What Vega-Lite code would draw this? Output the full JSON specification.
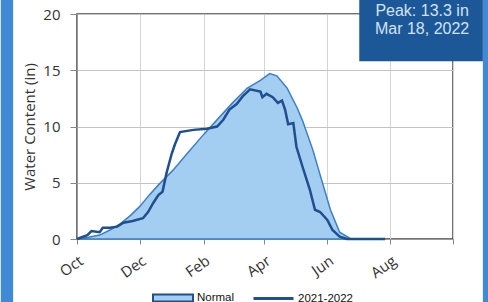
{
  "$schema": "https://vega.github.io/schema/vega-lite/v6.json",
  "autosize": {"type": "none"},
  "width": 376,
  "height": 225,
  "padding": {"left": 77, "top": 14, "right": 35, "bottom": 63},
  "background": "#ffffff",
  "config": {
    "view": {"stroke": "#444444", "strokeWidth": 1.5},
    "font": "Open Sans"
  },
  "datasets": {
    "frame": [
      {"x": "2021/07/19", "x2": "2021/07/31", "y": -6, "y2": 22},
      {"x": "2022/10/30", "x2": "2022/11/08", "y": -6, "y2": 22}
    ],
    "swe": [
      {"date": "2021/10/01", "value": 0, "series": "Normal"},
      {"date": "2021/10/12", "value": 0.15, "series": "Normal"},
      {"date": "2021/10/23", "value": 0.35, "series": "Normal"},
      {"date": "2021/11/02", "value": 0.8, "series": "Normal"},
      {"date": "2021/11/12", "value": 1.35, "series": "Normal"},
      {"date": "2021/11/22", "value": 2.1, "series": "Normal"},
      {"date": "2021/12/01", "value": 2.9, "series": "Normal"},
      {"date": "2021/12/10", "value": 3.9, "series": "Normal"},
      {"date": "2021/12/20", "value": 4.9, "series": "Normal"},
      {"date": "2022/01/02", "value": 6.1, "series": "Normal"},
      {"date": "2022/01/16", "value": 7.6, "series": "Normal"},
      {"date": "2022/02/01", "value": 9.3, "series": "Normal"},
      {"date": "2022/02/17", "value": 10.9, "series": "Normal"},
      {"date": "2022/03/01", "value": 12.1, "series": "Normal"},
      {"date": "2022/03/15", "value": 13.4, "series": "Normal"},
      {"date": "2022/03/28", "value": 14.1, "series": "Normal"},
      {"date": "2022/04/06", "value": 14.7, "series": "Normal"},
      {"date": "2022/04/13", "value": 14.5, "series": "Normal"},
      {"date": "2022/04/23", "value": 13.4, "series": "Normal"},
      {"date": "2022/05/03", "value": 11.6, "series": "Normal"},
      {"date": "2022/05/08", "value": 10.5, "series": "Normal"},
      {"date": "2022/05/18", "value": 7.9, "series": "Normal"},
      {"date": "2022/05/25", "value": 5.7, "series": "Normal"},
      {"date": "2022/06/04", "value": 2.6, "series": "Normal"},
      {"date": "2022/06/13", "value": 0.6, "series": "Normal"},
      {"date": "2022/06/23", "value": 0.05, "series": "Normal"},
      {"date": "2022/07/03", "value": 0, "series": "Normal"},
      {"date": "2021/10/01", "value": 0, "series": "2021-2022"},
      {"date": "2021/10/11", "value": 0.35, "series": "2021-2022"},
      {"date": "2021/10/15", "value": 0.7, "series": "2021-2022"},
      {"date": "2021/10/23", "value": 0.6, "series": "2021-2022"},
      {"date": "2021/10/26", "value": 1.0, "series": "2021-2022"},
      {"date": "2021/11/02", "value": 1.0, "series": "2021-2022"},
      {"date": "2021/11/09", "value": 1.1, "series": "2021-2022"},
      {"date": "2021/11/15", "value": 1.45, "series": "2021-2022"},
      {"date": "2021/11/24", "value": 1.6, "series": "2021-2022"},
      {"date": "2021/12/04", "value": 1.85, "series": "2021-2022"},
      {"date": "2021/12/09", "value": 2.4, "series": "2021-2022"},
      {"date": "2021/12/14", "value": 3.2, "series": "2021-2022"},
      {"date": "2021/12/19", "value": 3.9, "series": "2021-2022"},
      {"date": "2021/12/23", "value": 4.2, "series": "2021-2022"},
      {"date": "2021/12/27", "value": 5.9, "series": "2021-2022"},
      {"date": "2022/01/01", "value": 7.6, "series": "2021-2022"},
      {"date": "2022/01/04", "value": 8.4, "series": "2021-2022"},
      {"date": "2022/01/09", "value": 9.5, "series": "2021-2022"},
      {"date": "2022/01/22", "value": 9.7, "series": "2021-2022"},
      {"date": "2022/02/04", "value": 9.8, "series": "2021-2022"},
      {"date": "2022/02/14", "value": 10.0, "series": "2021-2022"},
      {"date": "2022/02/20", "value": 10.6, "series": "2021-2022"},
      {"date": "2022/02/26", "value": 11.5, "series": "2021-2022"},
      {"date": "2022/03/05", "value": 12.0, "series": "2021-2022"},
      {"date": "2022/03/11", "value": 12.7, "series": "2021-2022"},
      {"date": "2022/03/18", "value": 13.3, "series": "2021-2022"},
      {"date": "2022/03/28", "value": 13.1, "series": "2021-2022"},
      {"date": "2022/03/30", "value": 12.6, "series": "2021-2022"},
      {"date": "2022/04/03", "value": 12.9, "series": "2021-2022"},
      {"date": "2022/04/09", "value": 12.6, "series": "2021-2022"},
      {"date": "2022/04/14", "value": 12.1, "series": "2021-2022"},
      {"date": "2022/04/18", "value": 12.3, "series": "2021-2022"},
      {"date": "2022/04/21", "value": 11.5, "series": "2021-2022"},
      {"date": "2022/04/24", "value": 10.2, "series": "2021-2022"},
      {"date": "2022/04/29", "value": 10.3, "series": "2021-2022"},
      {"date": "2022/05/02", "value": 8.2, "series": "2021-2022"},
      {"date": "2022/05/08", "value": 6.4, "series": "2021-2022"},
      {"date": "2022/05/15", "value": 4.4, "series": "2021-2022"},
      {"date": "2022/05/20", "value": 2.6, "series": "2021-2022"},
      {"date": "2022/05/25", "value": 2.4, "series": "2021-2022"},
      {"date": "2022/06/01", "value": 1.7, "series": "2021-2022"},
      {"date": "2022/06/06", "value": 0.8, "series": "2021-2022"},
      {"date": "2022/06/13", "value": 0.2, "series": "2021-2022"},
      {"date": "2022/06/20", "value": 0, "series": "2021-2022"},
      {"date": "2022/07/27", "value": 0, "series": "2021-2022"}
    ],
    "box": [
      {"x": "2022/07/02", "x2": "2022/10/30", "y": 15.8, "y2": 21.4}
    ],
    "note": [
      {"x": "2022/09/01", "y": 19.8, "label": "Peak: 13.3 in"},
      {"x": "2022/09/01", "y": 18.2, "label": "Mar 18, 2022"}
    ]
  },
  "layer": [
    {
      "data": {"name": "frame"},
      "mark": {"type": "rect", "fill": "#3f89d6", "clip": false},
      "encoding": {
        "x": {"field": "x", "type": "temporal", "scale": {"domain": [{"year": 2021, "month": 10, "date": 1}, {"year": 2022, "month": 10, "date": 1}]},
          "axis": {
            "values": [
              {"year": 2021, "month": 10, "date": 1},
              {"year": 2021, "month": 12, "date": 1},
              {"year": 2022, "month": 2, "date": 1},
              {"year": 2022, "month": 4, "date": 1},
              {"year": 2022, "month": 6, "date": 1},
              {"year": 2022, "month": 8, "date": 1},
              {"year": 2022, "month": 10, "date": 1}
            ],
            "format": "%b",
            "labelExpr": "year(datum.value) === 2022 && month(datum.value) === 9 ? '' : datum.label",
            "title": null,
            "labelAngle": -35,
            "labelAlign": "right",
            "labelBaseline": "top",
            "labelPadding": 9,
            "labelFontSize": 15,
            "labelColor": "#333333",
            "tickSize": 5,
            "tickColor": "#888888",
            "domainColor": "#999999",
            "gridColor": "#d4d4d4",
            "labelFlush": false,
            "labelOverlap": false
          }
        },
        "x2": {"field": "x2"},
        "y": {"field": "y", "type": "quantitative", "scale": {"domain": [0, 20], "nice": false, "zero": false},
          "axis": {
            "values": [0, 5, 10, 15, 20],
            "title": "Water Content (in)",
            "titleFontSize": 15,
            "titleFontWeight": "normal",
            "titleColor": "#333333",
            "titlePadding": 5,
            "labelFontSize": 15,
            "labelColor": "#333333",
            "labelPadding": 10,
            "tickSize": 7,
            "tickColor": "#888888",
            "domainColor": "#999999",
            "gridColor": "#c4c4c4"
          }
        },
        "y2": {"field": "y2"}
      }
    },
    {
      "data": {"name": "swe"},
      "transform": [{"filter": "datum.series === 'Normal'"}],
      "mark": {"type": "area", "stroke": "#3d7fc4", "strokeWidth": 1.5, "opacity": 1},
      "encoding": {
        "x": {"field": "date", "type": "temporal"},
        "y": {"field": "value", "type": "quantitative"},
        "fill": {
          "field": "series", "type": "nominal",
          "scale": {"domain": ["Normal"], "range": ["#a3cdf1"]},
          "legend": {
            "title": null,
            "orient": "none",
            "legendX": 75,
            "legendY": 263,
            "symbolType": "M-1,-0.17H1V0.17H-1Z",
            "symbolSize": 1600,
            "symbolStrokeColor": "#1f4f8e",
            "symbolStrokeWidth": 2,
            "symbolOpacity": 1,
            "labelFont": "Liberation Sans",
            "labelFontSize": 11.5,
            "labelColor": "#111111",
            "labelOffset": 3
          }
        }
      }
    },
    {
      "data": {"name": "swe"},
      "transform": [{"filter": "datum.series === '2021-2022'"}],
      "mark": {"type": "line", "strokeWidth": 2.5},
      "encoding": {
        "x": {"field": "date", "type": "temporal"},
        "y": {"field": "value", "type": "quantitative"},
        "stroke": {
          "field": "series", "type": "nominal",
          "scale": {"domain": ["2021-2022"], "range": ["#1f4f8e"]},
          "legend": {
            "title": null,
            "orient": "none",
            "legendX": 175,
            "legendY": 263,
            "symbolType": "stroke",
            "symbolSize": 1600,
            "symbolStrokeWidth": 3,
            "labelFont": "Liberation Sans",
            "labelFontSize": 11.5,
            "labelColor": "#111111",
            "labelOffset": 3
          }
        }
      }
    },
    {
      "data": {"name": "box"},
      "mark": {"type": "rect", "fill": "#1c5898", "clip": false},
      "encoding": {
        "x": {"field": "x", "type": "temporal"},
        "x2": {"field": "x2"},
        "y": {"field": "y", "type": "quantitative"},
        "y2": {"field": "y2"}
      }
    },
    {
      "data": {"name": "note"},
      "mark": {"type": "text", "font": "Liberation Sans", "fontSize": 16, "color": "#d3e2f2", "align": "center", "baseline": "alphabetic", "clip": false},
      "encoding": {
        "x": {"field": "x", "type": "temporal"},
        "y": {"field": "y", "type": "quantitative"},
        "text": {"field": "label"}
      }
    }
  ]
}
